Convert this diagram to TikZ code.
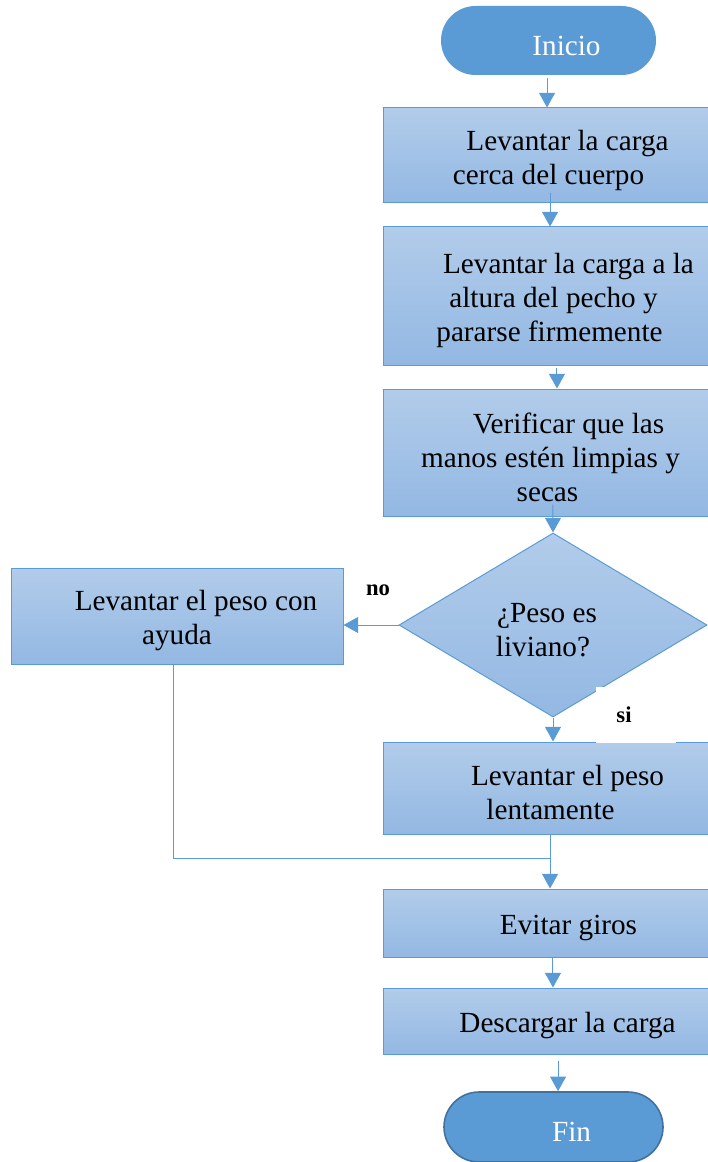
\documentclass[tikz,border=0pt]{standalone}
\usepackage{fontspec}
\setmainfont{Liberation Serif}
\usetikzlibrary{shapes.geometric,shapes.misc,arrows.meta}
\definecolor{lineblue}{HTML}{5B9BD5}
\definecolor{topfill}{HTML}{B2CCEA}
\definecolor{botfill}{HTML}{93B8E3}
\definecolor{finedge}{HTML}{41719C}
\newcommand\firstl{\rule{0pt}{22pt}}
\tikzset{
  txt/.style={font=\fontsize{21.9}{25.5}\selectfont},
  procbox/.style={rectangle, draw=lineblue, line width=0.75pt, top color=topfill, bottom color=botfill, align=center, inner sep=0pt, txt},
  decbox/.style={diamond, draw=lineblue, line width=0.75pt, top color=topfill, bottom color=botfill, align=center, inner sep=0pt, txt},
  termbox/.style={rounded rectangle, fill=lineblue, text=white, inner sep=0pt, txt},
  arr/.style={draw=lineblue, line width=0.75pt, -{Triangle[length=11pt,width=12pt]}},
  conn/.style={draw=lineblue, line width=0.75pt},
  lbl/.style={font=\fontsize{17}{20}\selectfont\bfseries, inner sep=0pt}
}
\begin{document}
\begin{tikzpicture}[x=0.75pt,y=-0.75pt]
\useasboundingbox (0,0) rectangle (707,1162);

\node[termbox, minimum width=161.25pt, minimum height=51.75pt] (inicio) at (548.5,40.5) {\firstl\hspace*{27pt}Inicio};
\node[procbox, minimum width=243.75pt, minimum height=71.25pt] (b1) at (545.5,155.5) {\firstl\hspace*{33pt}Levantar la carga\\\hspace*{4.5pt}cerca del cuerpo};
\node[procbox, minimum width=243.75pt, minimum height=103.5pt] (b2) at (545.5,296) {\firstl\hspace*{34.5pt}Levantar la carga a la\\\hspace*{12pt}altura del pecho y\\\hspace*{6pt}pararse firmemente};
\node[procbox, minimum width=243.75pt, minimum height=95.25pt] (b3) at (545.5,452.5) {\firstl\hspace*{34.5pt}Verificar que las\\\hspace*{7.5pt}manos estén limpias y\\\hspace*{3pt}secas};
\node[decbox, minimum width=231pt, minimum height=138pt] (dec) at (553,625) {\firstl ¿Peso es\hspace*{9pt}\\liviano?\hspace*{15pt}};
\node[procbox, minimum width=249pt, minimum height=72pt] (left) at (177,616) {\firstl\hspace*{28.5pt}Levantar el peso con\\ayuda};
\node[procbox, minimum width=243.75pt, minimum height=69pt] (b4) at (545.5,788) {\firstl\hspace*{33pt}Levantar el peso\\\hspace*{7.5pt}lentamente};
\node[procbox, minimum width=243.75pt, minimum height=51pt] (b5) at (545.5,923) {\firstl\hspace*{34.5pt}Evitar giros};
\node[procbox, minimum width=243.75pt, minimum height=49.5pt] (b6) at (545.5,1021) {\firstl\hspace*{33pt}Descargar la carga};
\node[termbox, draw=finedge, line width=1.2pt, minimum width=164.25pt, minimum height=52.5pt] (fin) at (553.5,1127) {\firstl\hspace*{27pt}Fin};

\coordinate (join) at (550,858);

\draw[arr] ([xshift=-1.1pt,yshift=-2pt]inicio.south) -- ([xshift=-1.1pt]inicio.south |- b1.north);
\draw[arr] ([xshift=3.4pt,yshift=7.5pt]b1.south) -- ([xshift=3.4pt]b1.south |- b2.north);
\draw[arr] ([xshift=8.6pt,yshift=-1.5pt]b2.south) -- ([xshift=8.6pt]b2.south |- b3.north);
\draw[arr] ([xshift=5.6pt,yshift=9pt]b3.south) -- (dec.north);
\draw[arr] (dec.south) -- (dec.south |- b4.north);
\draw[arr] (dec.west) -- (dec.west -| left.east);
\draw[conn] ([xshift=-3pt]left.south) |- (join);
\draw[arr] ([xshift=3.4pt]b4.south) -- ([xshift=3.4pt]b4.south |- b5.north);
\draw[arr] ([xshift=5.6pt]b5.south) -- ([xshift=5.6pt]b5.south |- b6.north);
\draw[arr] ([xshift=9.4pt,yshift=-4.5pt]b6.south) -- ([xshift=9.4pt]b6.south |- fin.north);

\node[lbl] (no) at (378,590) {no};
\node[lbl, fill=white, minimum width=60pt, minimum height=42pt] (si) at (636,715) {si\hspace*{18pt}};
\end{tikzpicture}
\end{document}
